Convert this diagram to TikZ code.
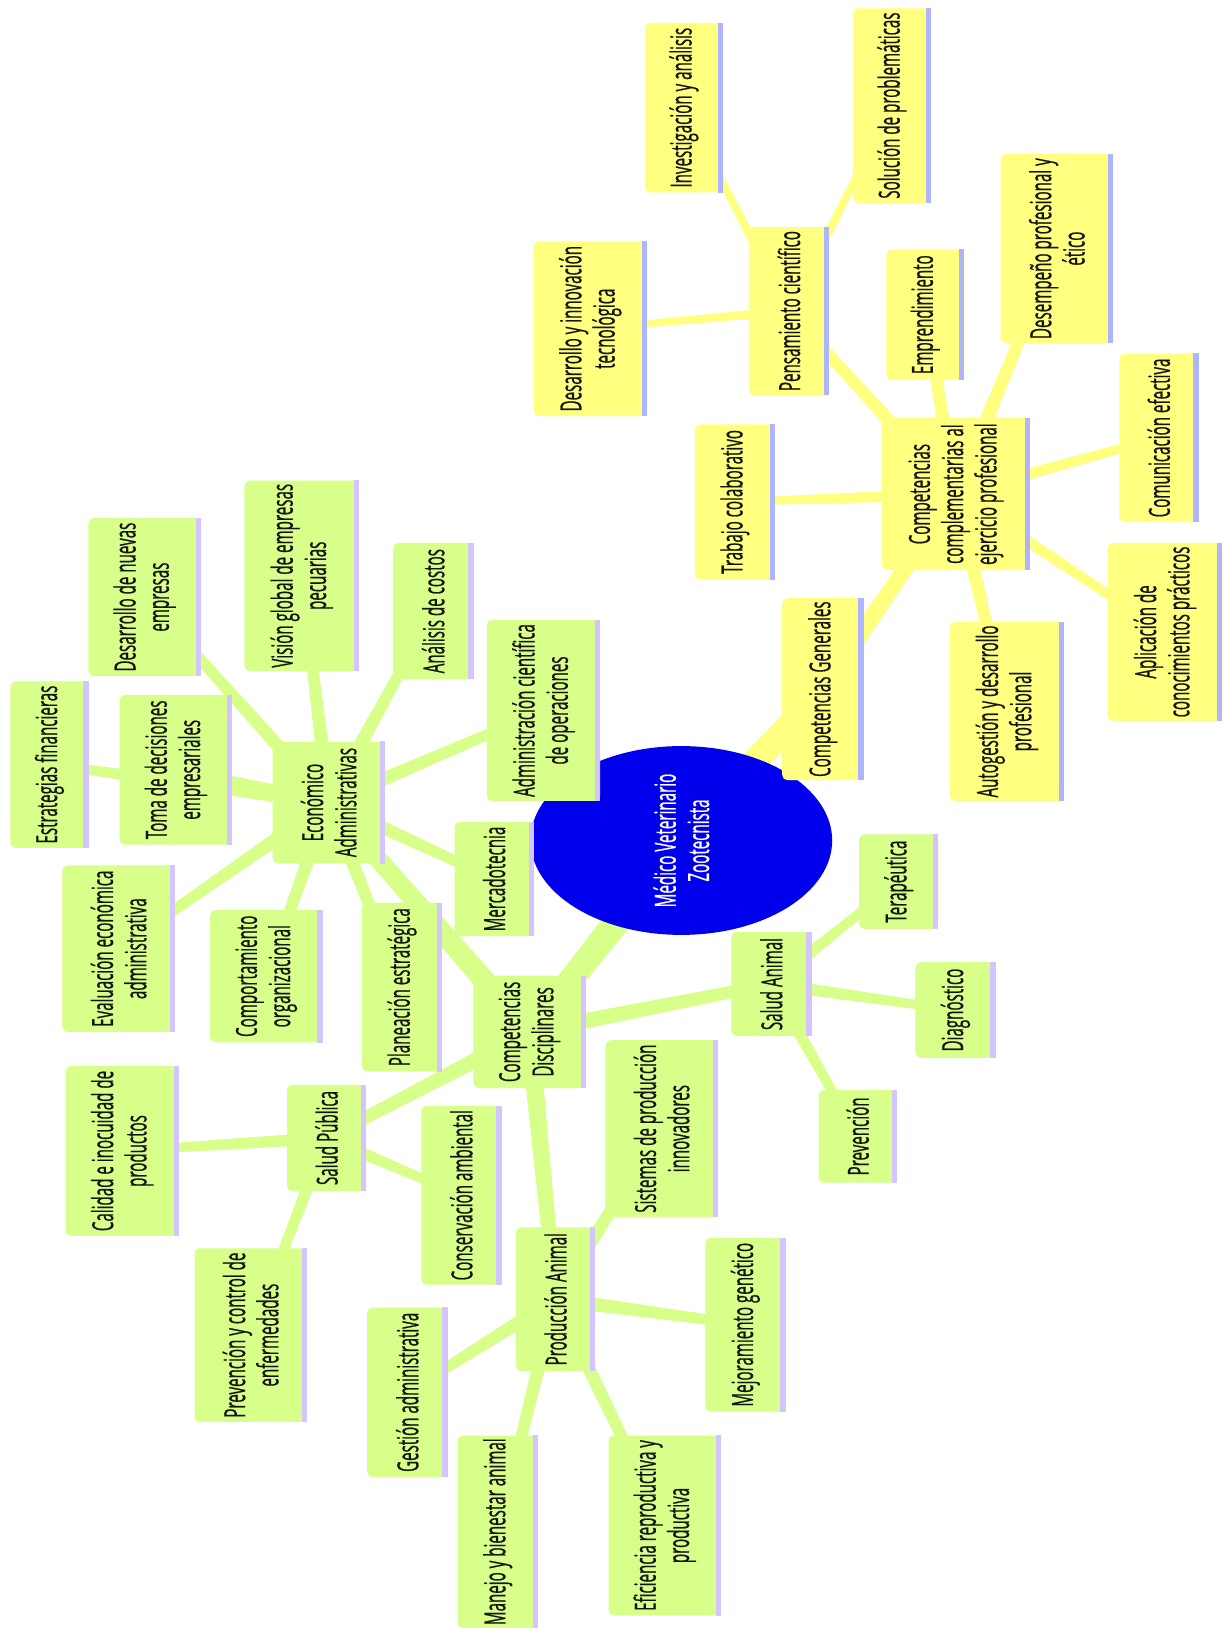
\documentclass[tikz,border=0pt]{standalone}
\usepackage{fontspec}
\setmainfont{Open Sans}[FakeStretch=0.52,FakeBold=0.6]
\usetikzlibrary{calc,shapes.geometric}
\definecolor{gfill}{RGB}{216,255,138}
\definecolor{gstrip}{RGB}{212,196,255}
\definecolor{yfill}{RGB}{255,255,128}
\definecolor{ystrip}{RGB}{174,180,255}
\definecolor{rootblue}{RGB}{0,0,236}
\definecolor{txt}{RGB}{20,20,20}
\pgfdeclarelayer{bg}
\pgfsetlayers{bg,main}
\newcommand\fs{\fontsize{28}{32}\selectfont}
\tikzset{
  boxbase/.style={rectangle, rounded corners=5pt, text=txt, align=center, inner sep=2pt, font=\fs},
  gbox/.style={boxbase, fill=gfill},
  ybox/.style={boxbase, fill=yfill},
  rootnode/.style={ellipse, fill=rootblue, text=white, align=center, font=\fs, inner sep=0pt},
}
% #1 style, #2 strip colour, #3 name, #4 x1, #5 y1, #6 x2, #7 y2, #8 text
\newcommand\bx[8]{%
  \node[#1, rotate=90, minimum width={(#7-#5)*1pt}, minimum height={(#6-#4)*1pt}] (#3) at ({(#4+#6)/2},{(#5+#7)/2}) {#8};
  \fill[#2] ([xshift=-5pt]#3.south west) rectangle (#3.south east);
}
\newcommand\gb[6]{\bx{gbox}{gstrip}{#1}{#2}{#3}{#4}{#5}{#6}}
\newcommand\yb[6]{\bx{ybox}{ystrip}{#1}{#2}{#3}{#4}{#5}{#6}}
% tapered connector: #1 parent, #2 child, #3 width at parent, #4 width at child, #5 colour
\newcommand\cn[5]{%
  \fill[#5] ($(#1)!#3*0.5pt!90:(#2)$) -- ($(#2)!#4*0.5pt!-90:(#1)$) -- ($(#2)!#4*0.5pt!90:(#1)$) -- ($(#1)!#3*0.5pt!-90:(#2)$) -- cycle;
}
\begin{document}
\begin{tikzpicture}[x=1pt,y=-1pt]
\begin{pgfonlayer}{bg}
\fill[white] (0,0) rectangle (1178,1567);
\end{pgfonlayer}
\useasboundingbox (0,0) rectangle (1178,1567);

% root
\node[rootnode, rotate=90, minimum width=140pt, minimum height=290pt] (root) at (655,808) {Médico Veterinario\\Zootecnista};

% yellow branch
\yb{y1}{620}{22}{695}{185}{Investigación y análisis}
\yb{y2}{820}{8}{895}{195}{Solución de problemáticas}
\yb{y3}{962}{148}{1070}{330}{Desempeño profesional y\\ético}
\yb{y4}{513}{232}{622}{400}{Desarrollo y innovación\\tecnológica}
\yb{pc}{720}{218}{797}{380}{Pensamiento científico}
\yb{y6}{852}{240}{927}{365}{Emprendimiento}
\yb{y7}{1076}{340}{1152}{502}{Comunicación efectiva}
\yb{y8}{668}{408}{745}{557}{Trabajo colaborativo}
\yb{cc}{848}{402}{990}{548}{Competencias\\complementarias al\\ejercicio profesional}
\yb{y10}{1065}{522}{1175}{693}{Aplicación de\\conocimientos prácticos}
\yb{cg}{752}{575}{830}{750}{Competencias Generales}
\yb{y12}{913}{598}{1023}{770}{Autogestión y desarrollo\\profesional}

% green branch
\gb{g1}{85}{498}{193}{650}{Desarrollo de nuevas\\empresas}
\gb{g2}{235}{462}{345}{645}{Visión global de empresas\\pecuarias}
\gb{g3}{378}{522}{455}{653}{Análisis de costos}
\gb{g4}{468}{596}{577}{770}{Administración científica\\de operaciones}
\gb{g5}{10}{655}{85}{815}{Estrategias financieras}
\gb{g6}{115}{668}{223}{812}{Toma de decisiones\\empresariales}
\gb{econ}{262}{713}{370}{830}{Económico\\Administrativas}
\gb{g8}{437}{790}{513}{900}{Mercadotecnia}
\gb{g9}{60}{832}{168}{992}{Evaluación económica\\administrativa}
\gb{g10}{202}{875}{310}{1002}{Comportamiento\\organizacional}
\gb{g11}{348}{868}{425}{1030}{Planeación estratégica}
\gb{cd}{455}{938}{563}{1046}{Competencias\\Disciplinares}
\gb{sa}{703}{896}{780}{996}{Salud Animal}
\gb{g14}{826}{802}{902}{893}{Terapéutica}
\gb{g15}{880}{925}{957}{1017}{Diagnóstico}
\gb{g16}{787}{1048}{862}{1137}{Prevención}
\gb{g17}{582}{1000}{690}{1170}{Sistemas de producción\\innovadores}
\gb{g18}{63}{1025}{172}{1188}{Calidad e inocuidad de\\productos}
\gb{sp}{276}{1043}{352}{1145}{Salud Pública}
\gb{g20}{405}{1063}{482}{1235}{Conservación ambiental}
\gb{g21}{187}{1200}{295}{1367}{Prevención y control de\\enfermedades}
\gb{pa}{496}{1180}{572}{1318}{Producción Animal}
\gb{g23}{678}{1190}{755}{1357}{Mejoramiento genético}
\gb{g24}{353}{1257}{430}{1420}{Gestión administrativa}
\gb{g25}{440}{1380}{517}{1565}{Manejo y bienestar animal}
\gb{g26}{585}{1380}{693}{1553}{Eficiencia reproductiva y\\productiva}

\begin{pgfonlayer}{bg}
\cn{root}{cd}{28}{22}{gfill}
\cn{root}{cg}{28}{22}{yfill}
\cn{cg}{cc}{18}{13}{yfill}
\cn{cc}{pc}{14}{10}{yfill}
\cn{cc}{y6}{14}{10}{yfill}
\cn{cc}{y3}{14}{10}{yfill}
\cn{cc}{y7}{12}{8}{yfill}
\cn{cc}{y10}{12}{8}{yfill}
\cn{cc}{y12}{14}{10}{yfill}
\cn{cc}{y8}{12}{7}{yfill}
\cn{pc}{y1}{9}{6}{yfill}
\cn{pc}{y2}{9}{6}{yfill}
\cn{pc}{y4}{9}{6}{yfill}
\cn{cd}{econ}{22}{16}{gfill}
\cn{cd}{sa}{16}{11}{gfill}
\cn{cd}{sp}{16}{11}{gfill}
\cn{cd}{pa}{18}{13}{gfill}
\foreach \c in {g1,g2,g3,g4,g5,g6,g8,g9,g10,g11}{\cn{econ}{\c}{14}{9}{gfill}}
\foreach \c in {g14,g15,g16}{\cn{sa}{\c}{12}{8}{gfill}}
\foreach \c in {g18,g20,g21}{\cn{sp}{\c}{12}{8}{gfill}}
\foreach \c in {g17,g23,g24,g25,g26}{\cn{pa}{\c}{14}{9}{gfill}}
\end{pgfonlayer}
\end{tikzpicture}
\end{document}
